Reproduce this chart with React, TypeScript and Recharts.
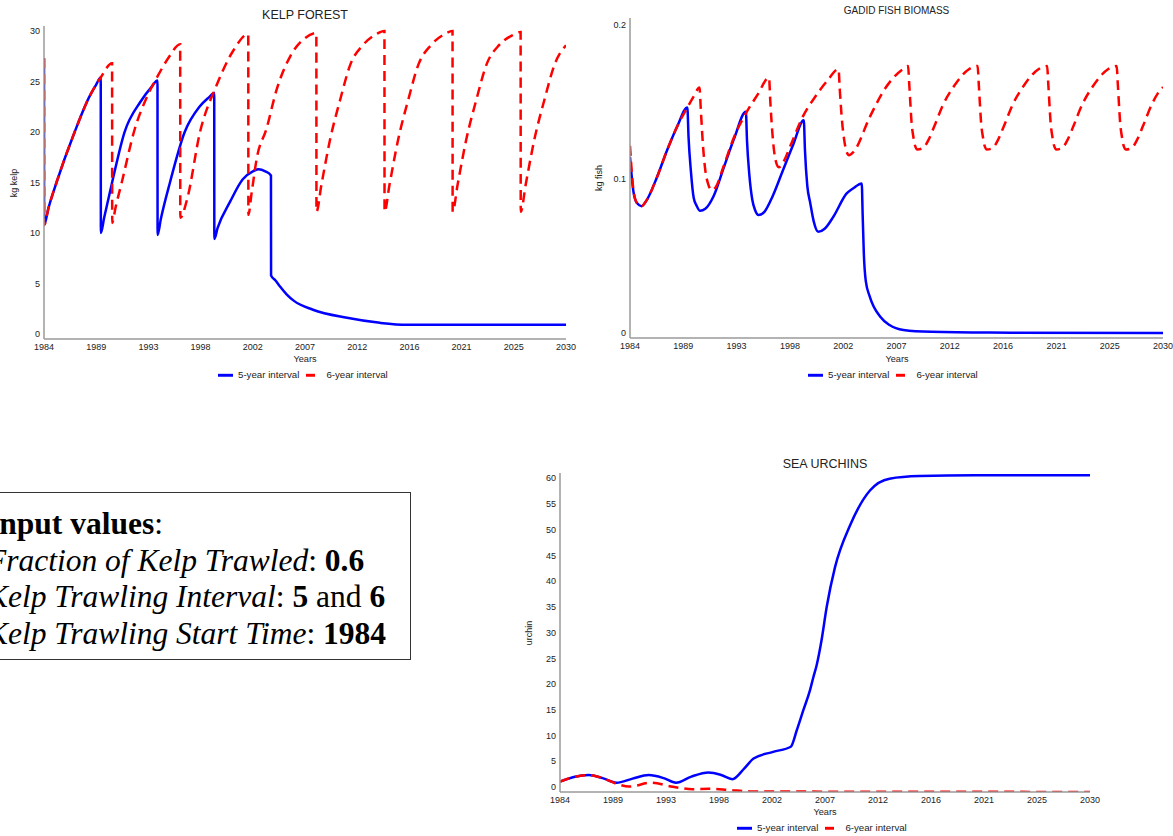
import { LineChart, Line, XAxis, YAxis } from 'recharts';

const BLUE = '#0000ff';
const RED = '#ff0000';
const AXIS = '#9a9a9a';
const INK = '#222222';

// x ticks: 1984..2030 split in 10 steps, labels are rounded years
const yearTicks = [1984, 1988.6, 1993.2, 1997.8, 2002.4, 2007, 2011.6, 2016.2, 2020.8, 2025.4, 2030];
const kelpTicks = [0, 5, 10, 15, 20, 25, 30];
const fishTicks = [0, 0.1, 0.2];
const urchinTicks = [0, 5, 10, 15, 20, 25, 30, 35, 40, 45, 50, 55, 60];

// KELP FOREST
const kelp5Years = [1984, 1984.01, 1984.4, 1985.1, 1986.7, 1988.0, 1988.6, 1989.0, 1989.01, 1989.3, 1990.0, 1991.1, 1992.5, 1993.5, 1994.0, 1994.01, 1994.3, 1995.1, 1996.4, 1997.7, 1998.6, 1999.0, 1999.01, 1999.3, 2000.4, 2001.5, 2002.4, 2002.9, 2003.5, 2004.0, 2004.01, 2004.4, 2004.8, 2005.4, 2006.0, 2007.7, 2010.7, 2013.6, 2016.0, 2030.0];
const kelp5 = [27.8, 11.3, 13.0, 15.5, 20.5, 24.0, 25.2, 25.9, 10.5, 12.0, 15.5, 20.5, 23.5, 25.0, 25.6, 10.3, 11.9, 15.5, 20.5, 23.0, 24.0, 24.4, 9.9, 11.0, 13.6, 15.8, 16.6, 16.8, 16.6, 16.2, 6.3, 5.8, 5.2, 4.4, 3.8, 2.9, 2.1, 1.6, 1.4, 1.4];

const kelp6Years = [1984, 1984.01, 1984.4, 1985.1, 1986.7, 1988.0, 1989.0, 1990.0, 1990.01, 1990.3, 1990.85, 1992.0, 1993.0, 1994.0, 1995.0, 1996.0, 1996.01, 1996.6, 1997.75, 1999.2, 2000.7, 2002.0, 2002.01, 2002.3, 2002.75, 2003.6, 2004.5, 2005.7, 2007.0, 2008.0, 2008.01, 2008.45, 2009.2, 2010.1, 2011.0, 2012.1, 2013.3, 2014.0, 2014.01, 2014.45, 2015.2, 2016.1, 2017.0, 2018.1, 2019.3, 2020.0, 2020.01, 2020.45, 2021.2, 2022.1, 2023.0, 2024.1, 2025.3, 2026.0, 2026.01, 2026.45, 2027.2, 2028.1, 2029.0, 2030.0];
const kelp6 = [27.8, 11.3, 13.0, 15.5, 20.5, 24.0, 25.9, 27.3, 11.5, 13.0, 15.5, 20.8, 23.8, 26.0, 27.9, 29.2, 12.0, 13.8, 20.5, 25.1, 28.6, 30.2, 12.3, 14.5, 17.9, 20.8, 24.7, 28.0, 29.8, 30.3, 12.6, 15.3, 19.7, 23.7, 27.2, 29.1, 30.2, 30.5, 12.6, 15.3, 19.7, 23.7, 27.2, 29.1, 30.2, 30.5, 12.6, 15.3, 19.7, 23.7, 27.2, 29.1, 30.1, 30.4, 12.6, 15.3, 19.7, 23.7, 27.2, 29.1];

// GADID FISH BIOMASS
const fish5Years = [1984, 1984.3, 1984.6, 1985.0, 1985.44, 1986.3, 1987.2, 1988.1, 1988.95, 1989.05, 1989.25, 1989.5, 1989.75, 1990.05, 1990.5, 1991.2, 1992.1, 1993.0, 1994.0, 1994.1, 1994.3, 1994.55, 1994.8, 1995.1, 1995.6, 1996.3, 1997.2, 1998.1, 1999.0, 1999.1, 1999.3, 1999.55, 1999.85, 2000.25, 2000.8, 2001.55, 2002.7, 2003.3, 2004.0, 2004.08, 2004.18, 2004.35, 2004.7, 2005.6, 2006.4, 2007.6, 2010.0, 2015.0, 2030.0];
const fish5 = [0.1177, 0.095, 0.0877, 0.0857, 0.0896, 0.104, 0.122, 0.138, 0.1498, 0.131, 0.109, 0.091, 0.086, 0.0827, 0.084, 0.092, 0.111, 0.13, 0.147, 0.128, 0.106, 0.09, 0.083, 0.0799, 0.082, 0.092, 0.109, 0.126, 0.1416, 0.122, 0.099, 0.088, 0.076, 0.069, 0.071, 0.0788, 0.094, 0.0975, 0.1005, 0.08, 0.055, 0.037, 0.0268, 0.0138, 0.0084, 0.0052, 0.004, 0.0035, 0.0032];

const fish6Years = [1984, 1984.3, 1984.6, 1985.0, 1985.44, 1986.3, 1987.2, 1988.1, 1988.95, 1989.5, 1990.0, 1990.1, 1990.3, 1990.5, 1990.75, 1991.05, 1991.4, 1992.05, 1993.0, 1994.0, 1995.0, 1996.0, 1996.1, 1996.3, 1996.55, 1996.85, 1997.2, 1997.9, 1998.9, 2000.0, 2001.0, 2002.0, 2002.1, 2002.3, 2002.5, 2002.7, 2002.9, 2003.3, 2004.7, 2006.0, 2007.6, 2008.0, 2008.1, 2008.2, 2008.3, 2008.45, 2008.6, 2008.8, 2009.3, 2009.75, 2010.3, 2011.0, 2011.95, 2013.25, 2014.0, 2014.1, 2014.2, 2014.3, 2014.45, 2014.6, 2014.8, 2015.3, 2015.75, 2016.3, 2017.0, 2017.95, 2019.25, 2020.0, 2020.1, 2020.2, 2020.3, 2020.45, 2020.6, 2020.8, 2021.3, 2021.75, 2022.3, 2023.0, 2023.95, 2025.25, 2026.0, 2026.1, 2026.2, 2026.3, 2026.45, 2026.6, 2026.8, 2027.3, 2027.75, 2028.3, 2029.0, 2029.74, 2030.0];
const fish6 = [0.1249, 0.096, 0.0877, 0.0857, 0.0896, 0.104, 0.122, 0.138, 0.1498, 0.157, 0.1628, 0.15, 0.125, 0.109, 0.1, 0.0961, 0.098, 0.111, 0.131, 0.146, 0.158, 0.1693, 0.155, 0.132, 0.116, 0.111, 0.114, 0.126, 0.1437, 0.157, 0.167, 0.1747, 0.162, 0.141, 0.128, 0.121, 0.1188, 0.121, 0.1437, 0.162, 0.175, 0.1768, 0.165, 0.152, 0.14, 0.131, 0.125, 0.1225, 0.1235, 0.1286, 0.1383, 0.1513, 0.1636, 0.1747, 0.1768, 0.165, 0.152, 0.14, 0.131, 0.125, 0.1225, 0.1235, 0.1286, 0.1383, 0.1513, 0.1636, 0.1747, 0.1768, 0.165, 0.152, 0.14, 0.131, 0.125, 0.1225, 0.1235, 0.1286, 0.1383, 0.1513, 0.1636, 0.1747, 0.1768, 0.165, 0.152, 0.14, 0.131, 0.125, 0.1225, 0.1235, 0.1286, 0.1383, 0.1513, 0.161, 0.163];

// SEA URCHINS
const urchin5Years = [1984, 1985.2, 1986.5, 1987.7, 1988.9, 1990.3, 1991.7, 1993.0, 1994.07, 1995.4, 1996.9, 1998.0, 1998.96, 2000.0, 2000.8, 2002.5, 2004.03, 2004.55, 2005.12, 2005.7, 2006.0, 2006.28, 2006.7, 2007.15, 2007.87, 2009.17, 2010.9, 2012.6, 2015.2, 2020.0, 2030.0];
const urchin5 = [2.0, 2.9, 3.3, 2.7, 1.8, 2.6, 3.3, 2.7, 1.8, 3.0, 3.8, 3.3, 2.5, 4.6, 6.5, 7.8, 8.8, 12.0, 15.9, 19.8, 22.4, 24.7, 29.5, 36.0, 43.7, 51.8, 58.6, 60.9, 61.4, 61.55, 61.55];

const urchin6Years = [1984, 1985.2, 1986.5, 1987.7, 1988.9, 1990.0, 1991.9, 1993.8, 1995.5, 1996.9, 1998.7, 2000.5, 2003.0, 2010.0, 2030.0];
const urchin6 = [2.0, 2.9, 3.3, 2.7, 1.6, 1.05, 1.8, 1.0, 0.55, 0.65, 0.4, 0.12, 0.1, 0.05, 0.02];

type Point = { t: number; v: number };
const zip = (t: number[], v: number[]): Point[] => t.map((x, i) => ({ t: x, v: v[i] }));

interface Series {
  data: Point[];
  color: string;
  dashed?: boolean;
}

// labels of the value axis sit a few px above their tick, as in the original
const YTick = ({ x, y, payload }: any) => (
  <text x={x} y={y - 5} dy="0.35em" textAnchor="end" fontSize={9} fill={INK}>
    {payload.value}
  </text>
);

interface PanelProps {
  left: number;
  top: number;
  width: number;
  height: number;
  plotTop: number;
  plotRight: number;
  yWidth: number;
  xHeight: number;
  yDomain: [number, number];
  yTicks: number[];
  series: Series[];
}

const Panel = ({ left, top, width, height, plotTop, plotRight, yWidth, xHeight, yDomain, yTicks, series }: PanelProps) => (
  <div style={{ position: 'absolute', left, top }}>
    <LineChart width={width} height={height} margin={{ top: plotTop, right: plotRight, bottom: 0, left: 0 }}>
      <XAxis
        dataKey="t"
        type="number"
        domain={[1984, 2030]}
        ticks={yearTicks}
        interval={0}
        allowDataOverflow
        height={xHeight}
        tickLine={false}
        tickSize={4}
        tickMargin={1}
        tickFormatter={(v: number) => String(Math.round(v))}
        tick={{ fontSize: 9, fill: INK }}
        axisLine={{ stroke: AXIS, strokeWidth: 1.5 }}
      />
      <YAxis
        type="number"
        domain={yDomain}
        ticks={yTicks}
        interval={0}
        allowDataOverflow
        width={yWidth}
        tickLine={false}
        tickSize={4}
        tickMargin={0}
        tick={(p: any) => <YTick {...p} />}
        axisLine={{ stroke: AXIS, strokeWidth: 1.5 }}
      />
      {series.map((s, i) => (
        <Line
          key={i}
          data={s.data}
          dataKey="v"
          type="monotone"
          stroke={s.color}
          strokeWidth={2.5}
          strokeDasharray={s.dashed ? '10 6' : undefined}
          dot={false}
          activeDot={false}
          isAnimationActive={false}
        />
      ))}
    </LineChart>
  </div>
);

const Centered = ({ x, y, size, rotate, children }: any) => (
  <div
    style={{
      position: 'absolute',
      left: x,
      top: y,
      fontSize: size,
      lineHeight: 1,
      whiteSpace: 'nowrap',
      color: INK,
      transform: `translate(-50%, -50%)${rotate ? ' rotate(-90deg)' : ''}`,
    }}
  >
    {children}
  </div>
);

const SeriesLegend = ({ left, y }: { left: number; y: number }) => (
  <div
    style={{
      position: 'absolute',
      left,
      top: y,
      transform: 'translateY(-50%)',
      display: 'flex',
      alignItems: 'center',
      fontSize: 9.7,
      lineHeight: 1,
      color: INK,
      whiteSpace: 'nowrap',
    }}
  >
    <svg width={15} height={4}>
      <line x1={0} y1={2} x2={15} y2={2} stroke={BLUE} strokeWidth={3} />
    </svg>
    <span style={{ marginLeft: 5 }}>5-year interval</span>
    <svg width={15} height={4} style={{ marginLeft: 7 }}>
      <line x1={0} y1={2} x2={9} y2={2} stroke={RED} strokeWidth={3} />
    </svg>
    <span style={{ marginLeft: 5 }}>6-year interval</span>
  </div>
);

export default function App() {
  return (
    <div
      style={{
        position: 'absolute',
        left: 0,
        top: 0,
        width: 1173,
        height: 836,
        background: '#fff',
        fontFamily: '"Liberation Sans", Arial, sans-serif',
      }}
    >
      <Panel
        left={0}
        top={0}
        width={590}
        height={390}
        plotTop={26}
        plotRight={24}
        yWidth={44}
        xHeight={51}
        yDomain={[0, 31]}
        yTicks={kelpTicks}
        series={[
          { data: zip(kelp5Years, kelp5), color: BLUE },
          { data: zip(kelp6Years, kelp6), color: RED, dashed: true },
        ]}
      />
      <Centered x={305} y={15} size={12.5}>KELP FOREST</Centered>
      <Centered x={14} y={183} size={9} rotate>kg kelp</Centered>
      <Centered x={305} y={360} size={9.2}>Years</Centered>
      <SeriesLegend left={218} y={375} />

      <Panel
        left={590}
        top={0}
        width={583}
        height={390}
        plotTop={18}
        plotRight={10}
        yWidth={40}
        xHeight={52}
        yDomain={[0, 0.208]}
        yTicks={fishTicks}
        series={[
          { data: zip(fish5Years, fish5), color: BLUE },
          { data: zip(fish6Years, fish6), color: RED, dashed: true },
        ]}
      />
      <Centered x={896.5} y={10.5} size={10}>GADID FISH BIOMASS</Centered>
      <Centered x={599} y={178} size={9} rotate>kg fish</Centered>
      <Centered x={897} y={360} size={9.2}>Years</Centered>
      <SeriesLegend left={808} y={375} />

      <Panel
        left={500}
        top={440}
        width={620}
        height={396}
        plotTop={33}
        plotRight={30}
        yWidth={60}
        xHeight={44}
        yDomain={[0, 62]}
        yTicks={urchinTicks}
        series={[
          { data: zip(urchin5Years, urchin5), color: BLUE },
          { data: zip(urchin6Years, urchin6), color: RED, dashed: true },
        ]}
      />
      <Centered x={825} y={464} size={12.5}>SEA URCHINS</Centered>
      <Centered x={529} y={633} size={9} rotate>urchin</Centered>
      <Centered x={825} y={813} size={9.2}>Years</Centered>
      <SeriesLegend left={737} y={828} />

      <div
        style={{
          position: 'absolute',
          left: -30,
          top: 492,
          width: 441,
          height: 168,
          border: '1px solid #333',
          boxSizing: 'border-box',
        }}
      />
      <div
        style={{
          position: 'absolute',
          left: -13,
          top: 506,
          fontFamily: '"Liberation Serif", "Times New Roman", serif',
          fontSize: 31.5,
          lineHeight: '36.7px',
          color: '#000',
          whiteSpace: 'nowrap',
        }}
      >
        <div>
          <b>Input values</b>:
        </div>
        <div>
          <i>Fraction of Kelp Trawled</i>: <b>0.6</b>
        </div>
        <div>
          <i>Kelp Trawling Interval</i>: <b>5</b> and <b>6</b>
        </div>
        <div>
          <i>Kelp Trawling Start Time</i>: <b>1984</b>
        </div>
      </div>
    </div>
  );
}
